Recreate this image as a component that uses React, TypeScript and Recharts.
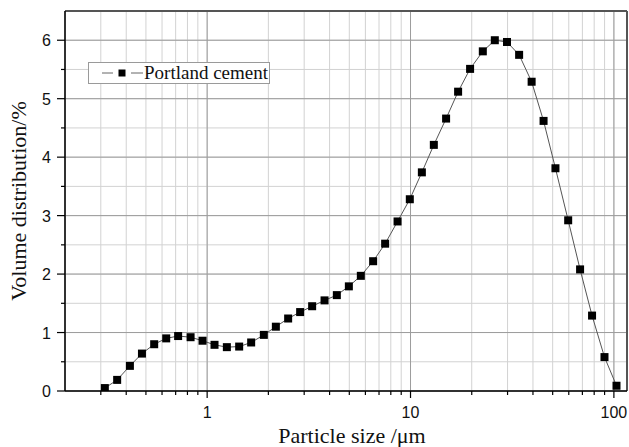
import React from 'react';
import { LineChart, Line, XAxis, YAxis, CartesianGrid, ReferenceLine, Legend } from 'recharts';

const particleSize = [
  0.314, 0.361, 0.417, 0.478, 0.549, 0.629, 0.72, 0.829, 0.949, 1.087,
  1.25, 1.437, 1.646, 1.9, 2.177, 2.502, 2.866, 3.283, 3.778, 4.342,
  4.975, 5.697, 6.549, 7.502, 8.635, 9.92, 11.37, 13.02, 14.96, 17.14,
  19.63, 22.67, 25.97, 29.81, 34.2, 39.4, 45.1, 51.6, 59.6, 68.2,
  78.1, 89.9, 103.0,
];
const volumeDist = [
  0.05, 0.19, 0.43, 0.64, 0.8, 0.9, 0.94, 0.92, 0.86, 0.79,
  0.75, 0.76, 0.83, 0.96, 1.1, 1.24, 1.35, 1.45, 1.55, 1.64,
  1.79, 1.97, 2.22, 2.52, 2.9, 3.28, 3.74, 4.21, 4.66, 5.12,
  5.51, 5.81, 6.0, 5.97, 5.75, 5.29, 4.62, 3.81, 2.92, 2.08,
  1.29, 0.58, 0.09,
];
const xDomain = [0.2, 116];
const yDomain = [0, 6.5];
const xMajorTicks = [1, 10, 100];
const xMinorTicks = [0.3, 0.4, 0.5, 0.6, 0.7, 0.8, 0.9, 2, 3, 4, 5, 6, 7, 8, 9, 20, 30, 40, 50, 60, 70, 80, 90];
const yMajorTicks = [0, 1, 2, 3, 4, 5, 6];
const yMinorTicks = [0.5, 1.5, 2.5, 3.5, 4.5, 5.5];
const seriesName = 'Portland cement';
const xTitle = 'Particle size /\u03bcm';
const yTitle = 'Volume distribution/%';

const data = particleSize.map((s, i) => ({ size: s, vol: volumeDist[i] }));
const xAllTicks = [...xMinorTicks, ...xMajorTicks].sort((a, b) => a - b);
const yAllTicks = [...yMinorTicks, ...yMajorTicks].sort((a, b) => a - b);

const sansFont = '"Liberation Sans", Arial, sans-serif';
const serifFont = '"Liberation Serif", "Times New Roman", serif';

const XTick = (props: any) => {
  const { x, y, payload } = props;
  const major = xMajorTicks.includes(payload.value);
  return (
    <g>
      <line x1={x} x2={x} y1={y} y2={y + (major ? 7 : 4)} stroke="#000" strokeWidth={1.2} />
      {major && (
        <text x={x} y={y + 27} textAnchor="middle" fontFamily={sansFont} fontSize={16} fill="#111">
          {payload.value}
        </text>
      )}
    </g>
  );
};

const YTick = (props: any) => {
  const { x, y, payload } = props;
  const major = yMajorTicks.includes(payload.value);
  return (
    <g>
      <line x1={x - (major ? 8 : 4)} x2={x} y1={y} y2={y} stroke="#000" strokeWidth={1.2} />
      {major && (
        <text x={x - 14} y={y + 6} textAnchor="end" fontFamily={sansFont} fontSize={16} fill="#111">
          {payload.value}
        </text>
      )}
    </g>
  );
};

const SquareDot = (props: any) => {
  const { cx, cy, index } = props;
  if (cx == null || cy == null) return <g key={`d${index}`} />;
  return <rect key={`d${index}`} x={cx - 4} y={cy - 4} width={8} height={8} fill="#000" />;
};

const LegendBox = () => (
  <div
    style={{
      width: 180,
      height: 20,
      border: '1px solid #9a9a9a',
      background: '#fff',
      display: 'flex',
      alignItems: 'center',
    }}
  >
    <svg width={55} height={20} style={{ display: 'block' }}>
      <line x1={13} x2={24} y1={10} y2={10} stroke="#666" strokeWidth={1} />
      <rect x={29.5} y={6.5} width={7} height={7} fill="#000" />
      <line x1={42} x2={54} y1={10} y2={10} stroke="#666" strokeWidth={1} />
    </svg>
    <span style={{ fontFamily: serifFont, fontSize: 19, color: '#111', lineHeight: '20px', whiteSpace: 'nowrap' }}>
      {seriesName}
    </span>
  </div>
);

const XTitle = (props: any) => {
  const vb = props.viewBox || { x: 65, y: 391, width: 562, height: 56 };
  return (
    <text x={vb.x + vb.width / 2 + 6} y={vb.y + 52} textAnchor="middle" fontFamily={serifFont} fontSize={22} fill="#111">
      {xTitle}
    </text>
  );
};

const YTitle = (props: any) => {
  const vb = props.viewBox || { x: 0, y: 11, width: 65, height: 380 };
  const cx = vb.x + 26;
  const cy = vb.y + vb.height / 2;
  return (
    <text
      x={cx}
      y={cy}
      transform={`rotate(-90, ${cx}, ${cy})`}
      textAnchor="middle"
      fontFamily={serifFont}
      fontSize={22}
      fill="#111"
    >
      {yTitle}
    </text>
  );
};

export default function App() {
  return (
    <div style={{ position: 'absolute', left: 0, top: 0, width: 629, height: 447, background: '#fff' }}>
      <LineChart width={629} height={447} data={data} margin={{ top: 11, right: 2, bottom: 0, left: 0 }}>
        <CartesianGrid stroke="#d2d2d2" strokeWidth={1} />
        <CartesianGrid xAxisId="major" yAxisId="major" stroke="#9c9c9c" strokeWidth={1} />
        <XAxis
          dataKey="size"
          type="number"
          scale="log"
          domain={xDomain}
          allowDataOverflow
          ticks={xAllTicks}
          interval={0}
          tickSize={0}
          tickMargin={0}
          tickLine={false}
          tick={XTick}
          height={56}
          axisLine={{ stroke: '#000', strokeWidth: 1.5 }}
          label={{ content: XTitle }}
        />
        <XAxis
          xAxisId="major"
          dataKey="size"
          type="number"
          scale="log"
          domain={xDomain}
          allowDataOverflow
          ticks={xMajorTicks}
          interval={0}
          hide
        />
        <YAxis
          type="number"
          domain={yDomain}
          allowDataOverflow
          ticks={yAllTicks}
          interval={0}
          tickSize={0}
          tickMargin={0}
          tickLine={false}
          tick={YTick}
          width={65}
          axisLine={{ stroke: '#000', strokeWidth: 1.5 }}
          label={{ content: YTitle }}
        />
        <YAxis yAxisId="major" type="number" domain={yDomain} allowDataOverflow ticks={yMajorTicks} interval={0} hide />
        <ReferenceLine y={yDomain[1]} stroke="#555" strokeWidth={2} ifOverflow="visible" />
        <ReferenceLine x={xDomain[1]} stroke="#555" strokeWidth={2} ifOverflow="visible" />
        <Legend
          layout="vertical"
          align="center"
          verticalAlign="middle"
          wrapperStyle={{ left: 88, top: 62, width: 'auto', height: 'auto' }}
          content={() => <LegendBox />}
        />
        <Line
          dataKey="vol"
          name={seriesName}
          stroke="#555"
          strokeWidth={1}
          dot={SquareDot}
          activeDot={false}
          isAnimationActive={false}
        />
      </LineChart>
    </div>
  );
}
